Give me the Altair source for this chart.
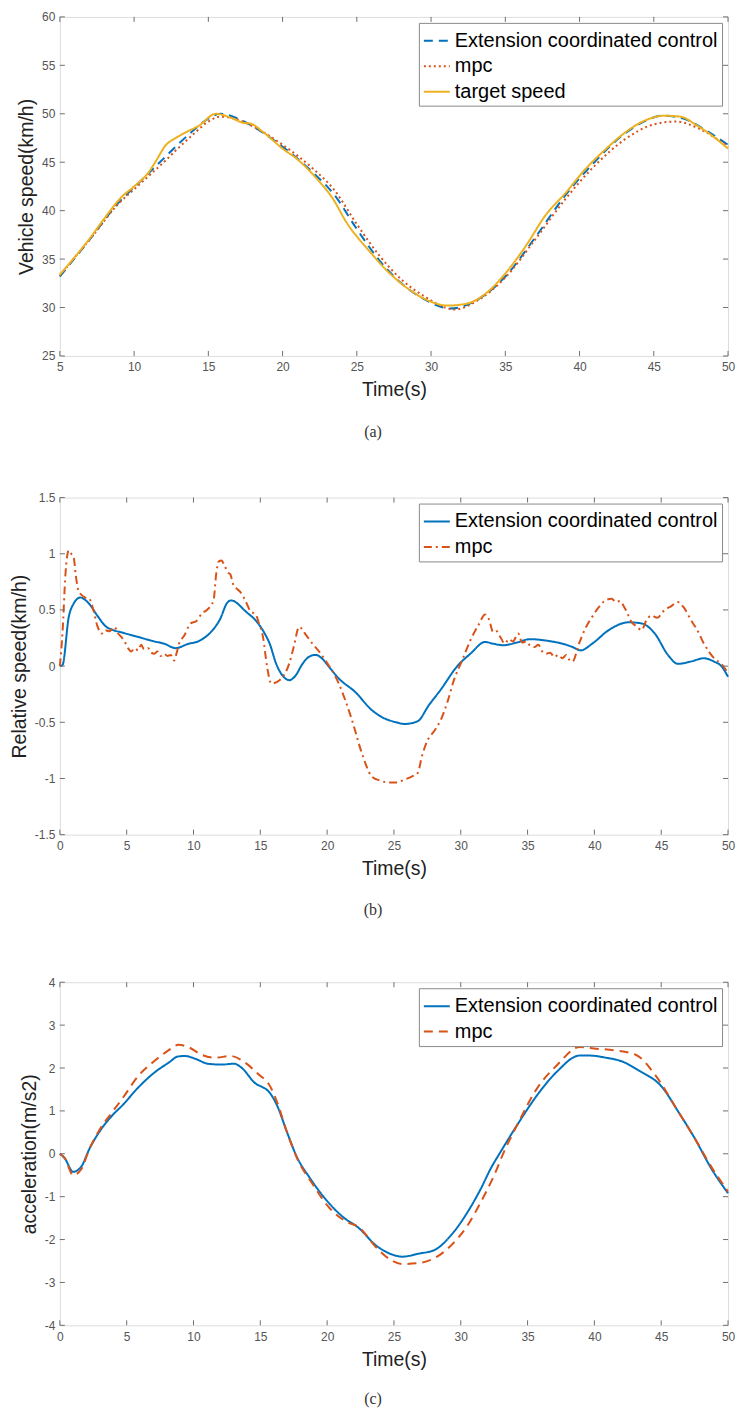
import altair as alt
import pandas as pd

# ---------------- Panel (a): vehicle speed ----------------
a_target_t = [5, 6, 7, 8, 9.15, 10, 11, 11.5, 12.1, 12.8, 13.5, 14.4, 15.5, 16.5, 17.4, 17.8, 18.7, 20, 21,
              22.3, 23.4, 24.3, 25.8, 27.1, 28.4, 30, 31.1, 32.4, 33.8, 35.1, 36.4, 37.7, 39.1, 40.4, 41.8,
              43.1, 44.4, 45.7, 46.8, 47.9, 49.05, 50]
a_target_v = [33.4, 35.2, 37.1, 39.2, 41.4, 42.5, 44.0, 45.2, 46.7, 47.5, 48.1, 48.8, 50.0, 49.6, 49.05, 49.0,
              48.1, 46.4, 45.3, 43.3, 41.2, 38.8, 35.9, 33.7, 32.0, 30.6, 30.2, 30.4, 31.6, 33.7, 36.4, 39.5,
              41.9, 44.3, 46.4, 48.1, 49.3, 49.8, 49.7, 48.8, 47.6, 46.4]
a_ext_t = [5, 7, 9, 10, 11, 12, 13, 14, 15, 15.8, 17, 18, 20, 22, 23.5, 25, 26.5, 28, 29.5, 31.3, 33, 35,
           37, 39, 41, 43, 44.5, 45.5, 47, 48.5, 50]
a_ext_v = [33.2, 37.0, 40.9, 42.4, 43.9, 45.4, 46.9, 48.3, 49.5, 50.0, 49.5, 48.7, 46.6, 44.0, 41.6, 38.1,
           34.9, 32.5, 30.9, 29.9, 30.7, 33.2, 37.2, 41.5, 45.0, 47.9, 49.3, 49.8, 49.5, 48.3, 46.8]
a_mpc_t = [5, 7, 9, 10, 11, 12, 13, 14, 15, 15.8, 17, 18, 20, 22, 23.5, 25, 26.5, 28, 29.5, 31.6, 33, 35,
           37, 39, 41, 43, 45, 46.5, 48, 50]
a_mpc_v = [33.3, 37.0, 40.8, 42.2, 43.6, 45.0, 46.5, 47.9, 49.2, 49.7, 49.4, 48.7, 46.8, 44.4, 42.1, 38.6,
           35.4, 32.9, 31.2, 29.8, 30.6, 33.1, 37.0, 41.1, 44.6, 47.3, 48.9, 49.2, 48.5, 46.6]

# ---------------- Panel (b): relative speed ----------------
b_ext_t = [0, 0.2, 0.67, 1.0, 1.53, 2.15, 2.8, 3.38, 4.0, 4.61, 5.84, 7.07, 7.8, 8.67, 9.53, 10.52, 11.5,
           12.0, 12.5, 12.8, 13.97, 14.7, 15.33, 15.7, 16.19, 16.7, 17.17, 17.6, 18.16, 18.6, 19.14, 19.6,
           20.13, 20.87, 22.1, 23.33, 24.2, 25.18, 25.8, 26.78, 27.6, 28.5, 29.74, 30.72, 31.83, 32.4,
           33.19, 34.2, 35.16, 36.5, 37.75, 38.36, 38.98, 39.84, 41.07, 42.55, 43.53, 44.52, 45.5, 46.24,
           47.2, 48.2, 48.96, 49.5, 50]
b_ext_v = [0, 0.01, 0.44, 0.55, 0.61, 0.56, 0.45, 0.36, 0.32, 0.30, 0.26, 0.22, 0.20, 0.16, 0.195, 0.23,
           0.33, 0.42, 0.56, 0.585, 0.48, 0.40, 0.29, 0.2, 0.02, -0.09, -0.125, -0.09, 0.02, 0.08, 0.10,
           0.07, -0.005, -0.11, -0.23, -0.39, -0.46, -0.50, -0.515, -0.49, -0.35, -0.21, 0.0, 0.11, 0.215,
           0.2, 0.186, 0.21, 0.24, 0.225, 0.195, 0.17, 0.14, 0.20, 0.32, 0.39, 0.38, 0.29, 0.10, 0.02,
           0.04, 0.07, 0.04, 0.0, -0.095]
b_mpc_t = [0, 0.2, 0.42, 0.67, 0.85, 1.03, 1.2, 1.4, 1.9, 2.2, 2.51, 2.8, 3.13, 3.4, 3.7, 4.1, 4.3, 4.6,
           4.86, 5.1, 5.35, 5.6, 5.85, 6.09, 6.3, 6.6, 6.85, 7.07, 7.3, 7.55, 7.8, 8.06, 8.3, 8.55, 8.7,
           8.92, 9.3, 9.78, 10.2, 10.64, 11.0, 11.5, 11.7, 11.88, 12.1, 12.3, 12.6, 12.74, 13.0, 13.23,
           13.5, 13.97, 14.2, 14.5, 14.7, 14.9, 15.2, 15.5, 15.82, 16.44, 17.17, 17.5, 17.91, 18.4, 18.9,
           19.4, 19.88, 20.87, 21.86, 22.6, 23.33, 24.0, 24.57, 25.2, 25.8, 26.4, 26.78, 27.1, 27.52, 28.0,
           28.5, 29.0, 29.5, 30.1, 30.72, 31.3, 31.83, 32.1, 32.44, 32.7, 33.0, 33.3, 33.6, 33.9, 34.3,
           34.6, 34.9, 35.16, 35.5, 35.8, 36.1, 36.4, 36.7, 37.0, 37.3, 37.6, 37.9, 38.1, 38.36, 38.85,
           39.3, 39.84, 40.3, 40.83, 41.3, 41.6, 41.9, 42.3, 42.8, 43.2, 43.53, 43.9, 44.27, 44.7, 45.26,
           45.7, 46.24, 46.7, 47.23, 47.7, 48.2, 48.96, 49.5, 50]
b_mpc_v = [0, 0.3, 0.82, 1.03, 1.0, 0.97, 0.8, 0.67, 0.61, 0.6, 0.5, 0.36, 0.29, 0.32, 0.31, 0.35, 0.30,
           0.26, 0.215, 0.16, 0.13, 0.16, 0.14, 0.19, 0.15, 0.16, 0.12, 0.11, 0.13, 0.09, 0.11, 0.09, 0.1,
           0.05, 0.1, 0.20, 0.27, 0.38, 0.40, 0.47, 0.5, 0.585, 0.82, 0.93, 0.94, 0.9, 0.83, 0.82, 0.72,
           0.69, 0.66, 0.56, 0.5, 0.47, 0.45, 0.38, 0.26, 0.0, -0.155, -0.125, 0.025, 0.17, 0.35, 0.28,
           0.20, 0.13, 0.05, -0.155, -0.48, -0.775, -0.98, -1.02, -1.035, -1.035, -1.01, -0.98, -0.95,
           -0.8, -0.66, -0.58, -0.48, -0.32, -0.12, 0.05, 0.23, 0.36, 0.46, 0.42, 0.30, 0.31, 0.25, 0.20,
           0.24, 0.22, 0.29, 0.21, 0.22, 0.186, 0.17, 0.19, 0.13, 0.11, 0.12, 0.08, 0.1, 0.07, 0.1, 0.06,
           0.04, 0.20, 0.33, 0.44, 0.52, 0.585, 0.60, 0.57, 0.58, 0.51, 0.39, 0.35, 0.32, 0.41, 0.45, 0.43,
           0.50, 0.53, 0.57, 0.52, 0.41, 0.32, 0.20, 0.07, 0.02, -0.06]

# ---------------- Panel (c): acceleration ----------------
c_ext_t = [0, 0.37, 0.99, 1.6, 2.22, 2.95, 3.94, 4.68, 5.91, 7.14, 8.12, 8.86, 9.36, 10.1, 11.08, 12.07,
           13.05, 13.55, 14.53, 15.76, 16.25, 16.99, 17.73, 18.72, 19.94, 21.17, 22.4, 23.63, 24.87, 25.6,
           26.84, 28.06, 29.3, 30.53, 31.51, 32.25, 32.99, 34.22, 35.7, 37.18, 38.9, 39.64, 40.87, 42.1,
           43.33, 45.05, 46.28, 47.51, 48.74, 50]
c_ext_v = [0, -0.11, -0.42, -0.30, 0.12, 0.51, 0.90, 1.13, 1.56, 1.91, 2.12, 2.27, 2.28, 2.22, 2.10, 2.08,
           2.10, 2.02, 1.67, 1.40, 1.13, 0.51, -0.07, -0.57, -1.08, -1.47, -1.74, -2.13, -2.35, -2.40,
           -2.33, -2.24, -1.89, -1.35, -0.81, -0.34, 0.05, 0.67, 1.36, 1.91, 2.29, 2.29, 2.24, 2.15, 1.94,
           1.56, 0.98, 0.36, -0.34, -0.92]
c_mpc_t = [0, 0.37, 0.99, 1.6, 2.22, 2.95, 3.94, 4.68, 5.91, 7.14, 8.12, 8.86, 9.6, 10.6, 11.6, 12.8, 13.8,
           14.8, 15.76, 16.25, 16.99, 17.73, 18.96, 20.19, 21.42, 22.4, 23.63, 24.74, 25.6, 26.84, 28.06,
           29.3, 30.53, 31.51, 32.5, 33.24, 34.22, 35.7, 37.18, 38.9, 40.13, 41.6, 43.09, 44.57, 46.28,
           47.51, 48.74, 50]
c_mpc_v = [0, -0.10, -0.50, -0.36, 0.12, 0.55, 0.98, 1.29, 1.83, 2.18, 2.41, 2.54, 2.49, 2.31, 2.24, 2.28,
           2.14, 1.87, 1.56, 1.21, 0.51, -0.09, -0.73, -1.27, -1.58, -1.72, -2.17, -2.47, -2.57, -2.55,
           -2.43, -2.13, -1.66, -1.12, -0.50, 0.05, 0.67, 1.52, 2.06, 2.49, 2.45, 2.41, 2.31, 1.83, 0.98,
           0.36, -0.30, -0.88]

EXT = "Extension coordinated control"
MPC = "mpc"
TGT = "target speed"

x_ticks_a = [5, 10, 15, 20, 25, 30, 35, 40, 45, 50]
x_ticks_bc = [0, 5, 10, 15, 20, 25, 30, 35, 40, 45, 50]
y_ticks_a = [25, 30, 35, 40, 45, 50, 55, 60]
y_ticks_b = [-1.5, -1, -0.5, 0, 0.5, 1, 1.5]
y_ticks_c = [-4, -3, -2, -1, 0, 1, 2, 3, 4]

BLUE = "#0072BD"
ORANGE = "#D95319"
YELLOW = "#EDB120"
GRAY = "#6e6e6e"
FONT = "Liberation Sans"
W = 670


def frame(series, names, colors, dashes, xdom, xticks, ydom, yticks, ytitle, caption, H, cap_offset):
    rows = []
    for name, (ts, vs) in zip(names, series):
        for t, v in zip(ts, vs):
            rows.append({"t": t, "v": v, "series": name})
    df = pd.DataFrame(rows)

    leg = alt.Legend(title=None, orient="top-right", offset=6, symbolType="stroke",
                     symbolSize=676, symbolStrokeWidth=2, labelFontSize=20, labelFont=FONT,
                     labelColor="#000000", strokeColor="#8a8a8a", fillColor="white", padding=4,
                     rowPadding=1.5, labelOffset=4, cornerRadius=0, labelLimit=400)
    xs = alt.Scale(domain=xdom, nice=False, zero=False)
    ys = alt.Scale(domain=ydom, nice=False, zero=False)
    xax = alt.Axis(values=xticks, ticks=False, domain=False, grid=False, labelFlush=False,
                   labelFontSize=12, labelFont=FONT, labelColor="#555555", labelPadding=6,
                   title="Time(s)", titleFont=FONT, titleFontSize=19.5, titleFontWeight="normal",
                   titleColor="#222222", titlePadding=8)
    yax = alt.Axis(values=yticks, ticks=False, domain=False, grid=False, labelExpr="'' + datum.value",
                   labelFontSize=12, labelFont=FONT, labelColor="#555555", labelPadding=5,
                   title=ytitle, titleFont=FONT, titleFontSize=19.5, titleFontWeight="normal",
                   titleColor="#222222", titlePadding=5)
    xenc = alt.X("t:Q", scale=xs, axis=xax)
    yenc = alt.Y("v:Q", scale=ys, axis=yax)

    lines = alt.Chart(df).mark_line(strokeWidth=2, interpolate="monotone").encode(
        x=xenc, y=yenc,
        color=alt.Color("series:N", scale=alt.Scale(domain=names, range=colors), legend=leg),
        strokeDash=alt.StrokeDash("series:N", scale=alt.Scale(domain=names, range=dashes), legend=leg),
    )

    xt = pd.DataFrame({"t": xticks})
    yt = pd.DataFrame({"v": yticks})
    tb = alt.Chart(xt).mark_rule(color=GRAY, strokeWidth=1).encode(
        x=xenc, y=alt.value(H), y2=alt.value(H - 5))
    tt = alt.Chart(xt).mark_rule(color=GRAY, strokeWidth=1).encode(
        x=xenc, y=alt.value(0), y2=alt.value(5))
    tl = alt.Chart(yt).mark_rule(color=GRAY, strokeWidth=1).encode(
        y=yenc, x=alt.value(0), x2=alt.value(5))
    tr = alt.Chart(yt).mark_rule(color=GRAY, strokeWidth=1).encode(
        y=yenc, x=alt.value(W), x2=alt.value(W - 5))

    return alt.layer(lines, tb, tt, tl, tr).properties(
        width=W, height=H,
        title=alt.Title(caption, orient="bottom", anchor="middle", frame="group", dx=-21,
                        offset=cap_offset, font="Liberation Serif", fontSize=16, fontWeight="normal",
                        color="#333333", lineHeight=7))


pa = frame([(a_ext_t, a_ext_v), (a_mpc_t, a_mpc_v), (a_target_t, a_target_v)],
           [EXT, MPC, TGT], [BLUE, ORANGE, YELLOW], [[9, 6], [2, 3], [1, 0]],
           [5, 50], x_ticks_a, [25, 60], y_ticks_a, "Vehicle speed(km/h)", "(a)", 340, 25)
pb = frame([(b_ext_t, b_ext_v), (b_mpc_t, b_mpc_v)],
           [EXT, MPC], [BLUE, ORANGE], [[1, 0], [8, 4, 2, 4]],
           [0, 50], x_ticks_bc, [-1.5, 1.5], y_ticks_b, "Relative speed(km/h)", ["(b)", " "], 338, 24)
pc = frame([(c_ext_t, c_ext_v), (c_mpc_t, c_mpc_v)],
           [EXT, MPC], [BLUE, ORANGE], [[1, 0], [9, 6]],
           [0, 50], x_ticks_bc, [-4, 4], y_ticks_c, "acceleration(m/s2)", "(c)", 344, 22)

chart = alt.vconcat(pa, pb, pc, spacing=50).resolve_scale(
    color="independent", strokeDash="independent", x="independent", y="independent").properties(
    padding=0).configure_view(stroke=GRAY, strokeWidth=1).configure(background="white")

chart.save("out.html", embed_options={"renderer": "svg", "actions": False})
